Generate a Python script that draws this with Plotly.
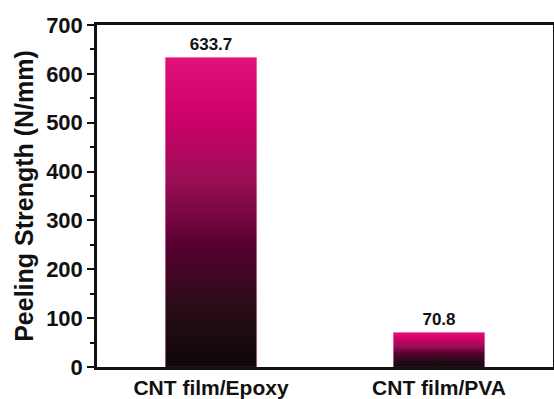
import plotly.graph_objects as go

categories = ["CNT film/Epoxy", "CNT film/PVA"]
values = [633.7, 70.8]
labels = ["633.7", "70.8"]
y_ticks = [0, 100, 200, 300, 400, 500, 600, 700]

colorscale = [
    [0.0, "#0b0808"],
    [0.2, "#2a0c18"],
    [0.4, "#5a0032"],
    [0.6, "#9a0e55"],
    [0.8, "#cc006a"],
    [1.0, "#e2117b"],
]

BAR_W = 0.4
xs = list(range(len(categories)))

fig = go.Figure()

# base bar trace carrying the values and labels
fig.add_trace(go.Bar(
    x=xs, y=values, width=BAR_W,
    marker=dict(color="rgba(0,0,0,0)", line=dict(width=0)),
    text=labels, textposition="outside", cliponaxis=False,
    textfont=dict(family="Liberation Sans", size=17, color="#111111", weight="bold"),
    hoverinfo="skip", showlegend=False,
))

# gradient fill for each bar
for xi, v in zip(xs, values):
    fig.add_trace(go.Scatter(
        x=[xi - BAR_W / 2, xi + BAR_W / 2, xi + BAR_W / 2, xi - BAR_W / 2, xi - BAR_W / 2],
        y=[0, 0, v, v, 0],
        mode="lines", line=dict(width=0.5, color="rgba(230,60,140,0.6)"),
        fill="toself",
        fillgradient=dict(type="vertical", colorscale=colorscale, start=0, stop=v),
        hoverinfo="skip", showlegend=False,
    ))

font_y = dict(family="Liberation Sans", size=22, color="#111111", weight="bold")
font_x = dict(family="Liberation Sans", size=21, color="#111111", weight="bold")

fig.update_layout(
    width=554, height=399,
    margin=dict(l=97, r=1, t=25, b=32, autoexpand=False),
    paper_bgcolor="white", plot_bgcolor="white",
    font=dict(family="Liberation Sans", color="#111111"),
    xaxis=dict(
        range=[-0.5, 1.5], tickvals=xs, ticktext=categories,
        tickfont=font_x, showgrid=False, zeroline=False, automargin=False,
        showline=True, linecolor="#111111", linewidth=2.5, mirror=True,
        ticks="inside", ticklen=5, tickwidth=2, tickcolor="#111111",
    ),
    yaxis=dict(
        range=[0, 700], tickvals=y_ticks, tickfont=font_y, automargin=False,
        title=dict(text="Peeling Strength (N/mm)", font=dict(family="Liberation Sans", size=25, color="#111111", weight="bold"), standoff=6),
        showgrid=False, zeroline=False,
        showline=True, linecolor="#111111", linewidth=2.5, mirror=True,
        ticks="outside", ticklen=7, tickwidth=2, tickcolor="#111111",
        minor=dict(dtick=50, ticks="outside", ticklen=4, tickwidth=2, tickcolor="#111111"),
    ),
)

fig.write_html("out.html", config={"displayModeBar": False},
               post_script="document.body.style.margin='0px';")
